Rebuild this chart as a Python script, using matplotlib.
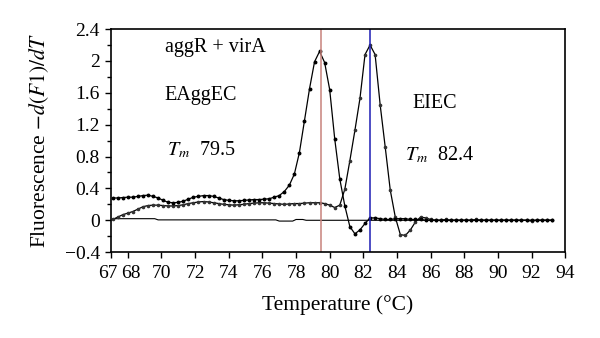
import numpy as np
import matplotlib
matplotlib.use('Agg')
import matplotlib.pyplot as plt
from matplotlib.transforms import ScaledTranslation

plt.rcParams['font.family'] = ['Liberation Serif', 'DejaVu Serif']
plt.rcParams['mathtext.fontset'] = 'stix'

# Temperatura de cada lectura (paso de 0.3 C)
temp = np.linspace(67.1, 93.2, 88)

# Curva de fusion EAggEC (aggR)
eaggec = [0.28, 0.28, 0.285, 0.29, 0.29, 0.30, 0.31, 0.315, 0.30, 0.28,
          0.25, 0.225, 0.22, 0.225, 0.24, 0.265, 0.29, 0.30, 0.31, 0.31,
          0.30, 0.28, 0.26, 0.25, 0.245, 0.245, 0.25, 0.255, 0.26, 0.26,
          0.265, 0.27, 0.29, 0.31, 0.36, 0.44, 0.58, 0.85, 1.25, 1.65,
          1.99, 2.12, 1.98, 1.64, 1.02, 0.52, 0.18, -0.08, -0.17, -0.12,
          -0.04, 0.03, 0.03, 0.02, 0.01, 0.01, 0.02, 0.02, 0.02, 0.01,
          0.01, 0.01, 0.0, 0.0, 0.0, 0.0, 0.0, 0.0, 0.0, 0.0,
          0.0, 0.0, 0.0, 0.0, 0.0, 0.0, 0.0, 0.0, 0.0, 0.0,
          0.0, 0.0, 0.0, 0.0, 0.0, 0.0, 0.0, 0.0]

# Curva de fusion EIEC (virA)
eiec = [0.01, 0.04, 0.07, 0.09, 0.11, 0.14, 0.17, 0.185, 0.19, 0.19,
        0.185, 0.18, 0.18, 0.185, 0.195, 0.21, 0.22, 0.23, 0.235, 0.23,
        0.22, 0.21, 0.20, 0.195, 0.19, 0.195, 0.20, 0.21, 0.215, 0.22,
        0.22, 0.215, 0.21, 0.205, 0.20, 0.205, 0.21, 0.21, 0.215, 0.22,
        0.22, 0.22, 0.21, 0.19, 0.16, 0.19, 0.39, 0.75, 1.13, 1.53,
        2.08, 2.20, 2.08, 1.45, 0.92, 0.38, 0.04, -0.18, -0.19, -0.12,
        -0.02, 0.04, 0.03, 0.01, 0.0, 0.0, 0.01, 0.0, 0.0, 0.0,
        0.0, 0.0, 0.01, 0.0, 0.0, 0.0, 0.0, 0.0, 0.0, 0.0,
        0.0, 0.0, 0.0, -0.01, 0.0, 0.0, 0.0, 0.0]

# Control negativo (sin plantilla)
temp_neg = [67.1, 69.6, 69.8, 76.8, 77.0, 77.8, 78.0, 78.4, 78.6, 93.2]
neg = [0.02, 0.02, 0.005, 0.005, -0.01, -0.01, 0.01, 0.01, 0.0, 0.0]

# Temperaturas de fusion
tm_eaggec = 79.5
tm_eiec = 82.4

xticks = [67, 68, 70, 72, 74, 76, 78, 80, 82, 84, 86, 88, 90, 92, 94]
yticks = [-0.4, 0, 0.4, 0.8, 1.2, 1.6, 2, 2.4]
ylabels = ['\u22120.4', '0', '0.4', '0.8', '1.2', '1.6', '2', '2.4']

fig = plt.figure(figsize=(6, 3.38), dpi=100)
ax = fig.add_axes([0.185, 0.254, 0.757, 0.660])

ax.plot(temp_neg, neg, color='black', lw=0.8)
ax.plot(temp, eiec, color='black', lw=0.9, marker='o', ms=1.6,
        mfc='#333333', mec='#333333')
ax.plot(temp, eaggec, color='black', lw=0.9, marker='o', ms=1.8)

ax.axvline(tm_eaggec, color='#c8827c', lw=1.1)
ax.axvline(tm_eiec, color='#1c1cb4', lw=1.1)

fs_txt = 14.5
ax.text(70.2, 2.17, 'aggR + virA', fontsize=fs_txt, va='center')
ax.text(70.2, 1.57, 'EAggEC', fontsize=fs_txt, va='center')
ax.text(70.3, 0.88, r'$T_m$  %.1f' % tm_eaggec, fontsize=fs_txt, va='center')
ax.text(84.9, 1.46, 'EIEC', fontsize=fs_txt, va='center')
ax.text(84.5, 0.82, r'$T_m$  %.1f' % tm_eiec, fontsize=fs_txt, va='center')

ax.set_xlim(67, 94)
ax.set_ylim(-0.4, 2.4)
ax.set_xticks(xticks)
ax.set_xticklabels([str(t) for t in xticks])
ax.set_yticks(yticks)
ax.set_yticklabels(ylabels)
ax.set_yticks(np.arange(-0.2, 2.4, 0.4), minor=True)
ax.tick_params(axis='both', which='major', direction='out', length=4,
               width=1, labelsize=14)
ax.tick_params(axis='x', which='major', pad=5)
ax.tick_params(axis='y', which='major', pad=4)
ax.tick_params(axis='y', which='minor', direction='out', length=3, width=1)
for s in ax.spines.values():
    s.set_linewidth(1.2)

# separar un poco las etiquetas 67 y 68, que quedan muy juntas
lbls = ax.get_xticklabels()
lbls[0].set_transform(lbls[0].get_transform() +
                      ScaledTranslation(-2.5 / 72, 0, fig.dpi_scale_trans))
lbls[1].set_transform(lbls[1].get_transform() +
                      ScaledTranslation(2.5 / 72, 0, fig.dpi_scale_trans))

ax.set_xlabel('Temperature (\u00b0C)', fontsize=15.5, labelpad=10)
ax.set_ylabel(r'Fluorescence $-d(F1)/dT$', fontsize=15.5, labelpad=10)

fig.savefig('out.png', dpi=100)
